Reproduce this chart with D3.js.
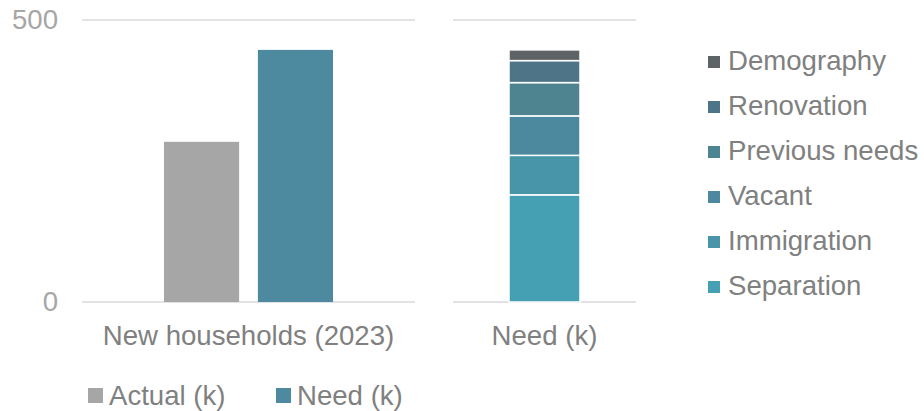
<!DOCTYPE html>
<html>
<head>
<meta charset="utf-8">
<script src="https://cdn.jsdelivr.net/npm/d3@7"></script>
<style>
  body { margin: 0; background: #fff; }
  text { font-family: "Liberation Sans", Arial, sans-serif; }
</style>
</head>
<body>
<div id="my_dataviz"></div>
<script>
var width = 924
var height = 411
var fontSize = "27.6px"

// left panel data
var groups = ["New households (2023)"]
var seriesNames = ["Actual (k)", "Need (k)"]
var seriesValues = [284, 447]
var seriesColors = ["#a6a6a6", "#4d8a9f"]

// right panel data (stack, bottom to top)
var stackCategory = ["Need (k)"]
var stackKeys = ["Separation", "Immigration", "Vacant", "Previous needs", "Renovation", "Demography"]
var stackValues = [190, 70, 70, 59, 39, 19]
var stackColors = ["#45a0b3", "#4894a8", "#4c889e", "#4d8490", "#4e7488", "#5e6366"]

var yTicks = [0, 500]

var svg = d3.select("#my_dataviz")
  .append("svg")
    .attr("width", width)
    .attr("height", height)

var y = d3.scaleLinear()
  .domain([0, 500])
  .range([302, 20])

var xLeft = d3.scaleBand()
  .domain(groups)
  .range([82, 415])
  .paddingInner(0)
  .paddingOuter(0.485)

var xSeries = d3.scaleBand()
  .domain(seriesNames)
  .range([0, xLeft.bandwidth()])
  .paddingInner(0.2)

var xRight = d3.scaleBand()
  .domain(stackCategory)
  .range([453, 636])
  .paddingOuter(0.789)

// gridlines
function grid(x0, x1) {
  svg.append("g")
    .selectAll("line")
    .data(yTicks)
    .enter()
    .append("line")
      .attr("x1", x0)
      .attr("x2", x1)
      .attr("y1", function(d) { return y(d) })
      .attr("y2", function(d) { return y(d) })
      .attr("stroke", "#e3e3e3")
      .attr("stroke-width", 2)
}
grid(82, 415)
grid(453, 636)

// y axis labels
var yAxis = svg.append("g")
  .attr("transform", "translate(58,0)")
  .call(d3.axisLeft(y).tickValues(yTicks).tickSize(0).tickPadding(0))
yAxis.select(".domain").remove()
yAxis.selectAll("text")
  .style("font-family", "Liberation Sans, Arial, sans-serif")
  .style("font-size", fontSize)
  .attr("fill", "#a6a6a6")

// left bars
var leftData = seriesNames.map(function(n, i) { return { name: n, value: seriesValues[i], color: seriesColors[i] } })
svg.append("g")
  .selectAll("rect")
  .data(leftData)
  .enter()
  .append("rect")
    .attr("x", function(d) { return xLeft(groups[0]) + xSeries(d.name) })
    .attr("width", xSeries.bandwidth())
    .attr("y", function(d) { return y(d.value) })
    .attr("height", function(d) { return y(0) - y(d.value) })
    .attr("fill", function(d) { return d.color })

// right stacked bar
var row = { cat: stackCategory[0] }
stackKeys.forEach(function(k, i) { row[k] = stackValues[i] })
var stacked = d3.stack().keys(stackKeys)([row])
var color = d3.scaleOrdinal().domain(stackKeys).range(stackColors)

svg.append("g")
  .selectAll("rect")
  .data(stacked)
  .enter()
  .append("rect")
    .attr("x", xRight(stackCategory[0]))
    .attr("width", xRight.bandwidth())
    .attr("y", function(d) { return y(d[0][1]) })
    .attr("height", function(d) { return y(d[0][0]) - y(d[0][1]) })
    .attr("fill", function(d) { return color(d.key) })
    .attr("stroke", "#fff")
    .attr("stroke-width", 1.5)

// category labels
svg.append("text")
  .attr("x", xLeft(groups[0]) + xLeft.bandwidth() / 2)
  .attr("y", 345)
  .attr("text-anchor", "middle")
  .style("font-size", fontSize)
  .attr("fill", "#808080")
  .text(groups[0])

svg.append("text")
  .attr("x", xRight(stackCategory[0]) + xRight.bandwidth() / 2)
  .attr("y", 345)
  .attr("text-anchor", "middle")
  .style("font-size", fontSize)
  .attr("fill", "#808080")
  .text(stackCategory[0])

// bottom legend
var legB = svg.append("g")
  .selectAll("g")
  .data(leftData)
  .enter()
  .append("g")
    .attr("transform", function(d, i) { return "translate(" + [88, 276][i] + ",0)" })
legB.append("rect")
  .attr("x", 0)
  .attr("y", 388)
  .attr("width", 15)
  .attr("height", 15)
  .attr("fill", function(d) { return d.color })
legB.append("text")
  .attr("x", 21)
  .attr("y", 405)
  .style("font-size", fontSize)
  .attr("fill", "#808080")
  .text(function(d) { return d.name })

// right legend (top to bottom)
var legendKeys = stackKeys.slice().reverse()
var legR = svg.append("g")
  .selectAll("g")
  .data(legendKeys)
  .enter()
  .append("g")
    .attr("transform", function(d, i) { return "translate(708," + (62 + i * 45) + ")" })
legR.append("rect")
  .attr("x", 0)
  .attr("y", -6)
  .attr("width", 12)
  .attr("height", 12)
  .attr("fill", function(d) { return color(d) })
legR.append("text")
  .attr("x", 20)
  .attr("y", 8)
  .style("font-size", fontSize)
  .attr("fill", "#808080")
  .text(function(d) { return d })
</script>
</body>
</html>
